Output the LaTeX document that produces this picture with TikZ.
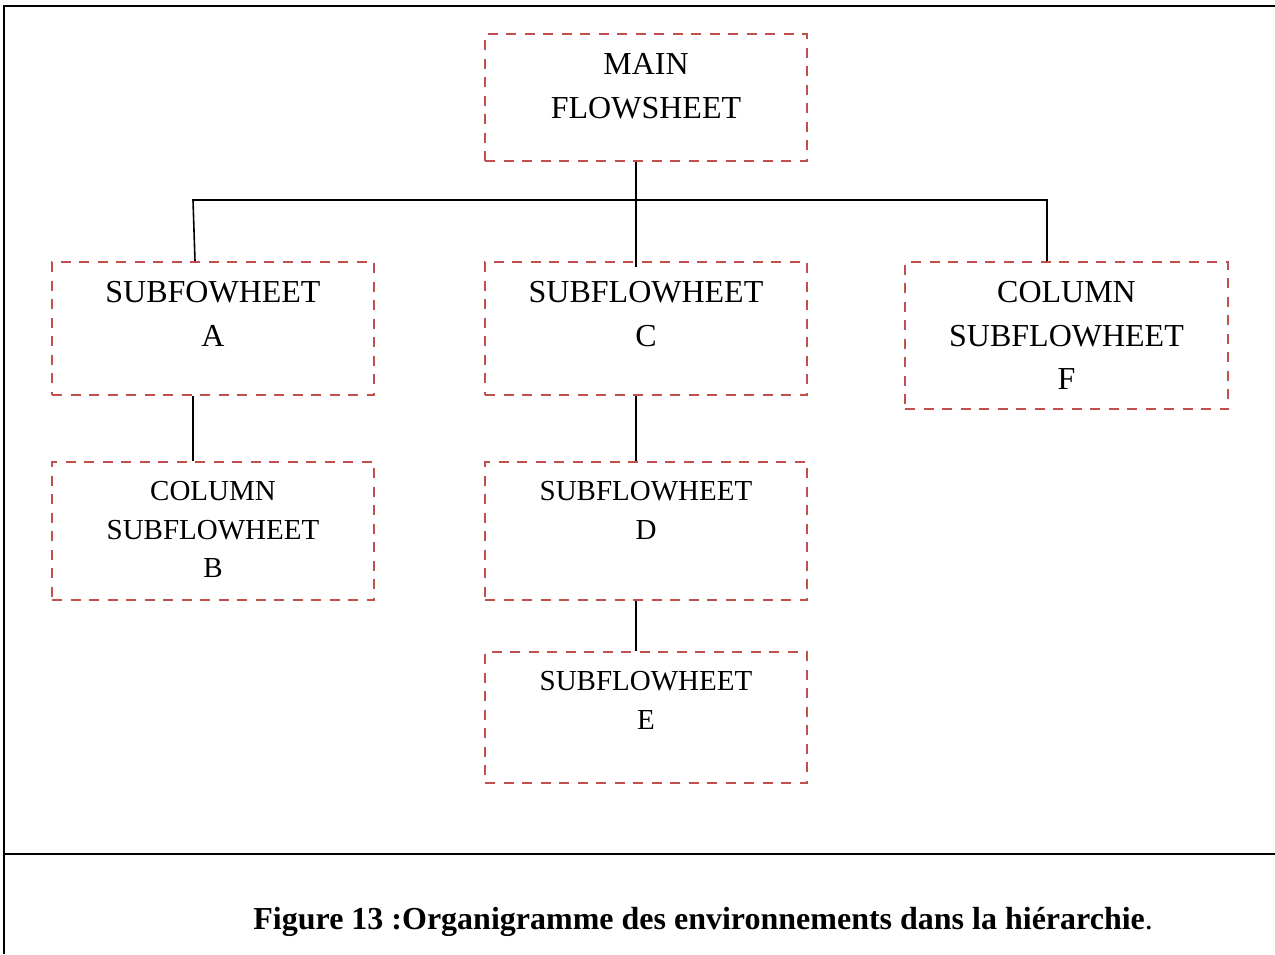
\documentclass[tikz,border=0pt]{standalone}
\usepackage{fontspec}
\setmainfont{Liberation Serif}
\usetikzlibrary{calc}
\definecolor{boxred}{RGB}{192,80,77}
\begin{document}
\begin{tikzpicture}[x=0.5pt,y=-0.5pt,
  box/.style={draw=boxred, line width=1pt, dash pattern=on 5pt off 4.25pt,
              inner sep=0pt, minimum width=161pt},
  bigtxt/.style={anchor=north, inner sep=0pt, align=center,
                 font=\fontsize{16}{21.75}\selectfont},
  smalltxt/.style={anchor=north, inner sep=0pt, align=center,
                   font=\fontsize{14.5}{19.25}\selectfont},
  link/.style={draw=black, line width=0.8pt},
  frameline/.style={draw=black, line width=1pt}]
\useasboundingbox (0,0) rectangle (1275,954);

% page frame and caption separator
\coordinate (fTL) at (4,6);
\coordinate (fTR) at (1275,6);
\coordinate (fBL) at (4,954);
\coordinate (sL) at (4,854);
\coordinate (sR) at (1275,854);
\draw[frameline] (fBL) -- (fTL) -- (fTR);
\draw[frameline] (sL) -- (sR);

% boxes
\node[box, minimum height=63.5pt] (main) at (646,97.5) {};
\node[box, minimum height=66.5pt] (A) at (213,328.5) {};
\node[box, minimum height=66.5pt] (C) at (646,328.5) {};
\node[box, minimum height=73.5pt, minimum width=161.5pt] (F) at (1066.5,335.5) {};
\node[box, minimum height=69pt] (B) at (213,531) {};
\node[box, minimum height=69pt] (D) at (646,531) {};
\node[box, minimum height=65.5pt] (E) at (646,717.5) {};

% box texts
\node[bigtxt] (mainT) at ([yshift=-10pt]main.north) {MAIN\\FLOWSHEET};
\node[bigtxt] (AT) at ([yshift=-10pt]A.north) {SUBFOWHEET\\A};
\node[bigtxt] (CT) at ([yshift=-10pt]C.north) {SUBFLOWHEET\\C};
\node[bigtxt] (FT) at ([yshift=-10pt]F.north) {COLUMN\\SUBFLOWHEET\\F};
\node[smalltxt] (BT) at ([yshift=-10pt]B.north) {COLUMN\\SUBFLOWHEET\\B};
\node[smalltxt] (DT) at ([yshift=-10pt]D.north) {SUBFLOWHEET\\D};
\node[smalltxt] (ET) at ([yshift=-10pt]E.north) {SUBFLOWHEET\\E};

% connectors
\coordinate (bus) at ([yshift=-19pt]main.south);
\draw[link] ([xshift=-5pt]main.south) -- ([xshift=-5pt,yshift=-3pt]C.north);
\draw[link] ([xshift=-9pt]A.north) -- ([xshift=-10pt]A.north |- bus)
            -- ([xshift=-9.75pt]F.north |- bus) -- ([xshift=-9.75pt]F.north);
\draw[link] ([xshift=-10pt]A.south) -- ([xshift=-10pt]B.north);
\draw[link] ([xshift=-5pt]C.south) -- ([xshift=-5pt]D.north);
\draw[link] ([xshift=-5pt]D.south) -- ([xshift=-5pt]E.north);

% caption
\node[anchor=base west, inner sep=0pt, font=\fontsize{16}{19}\selectfont] (cap)
  at (253,929) {\textbf{Figure 13 :Organigramme des environnements dans la hiérarchie}.};
\end{tikzpicture}
\end{document}
